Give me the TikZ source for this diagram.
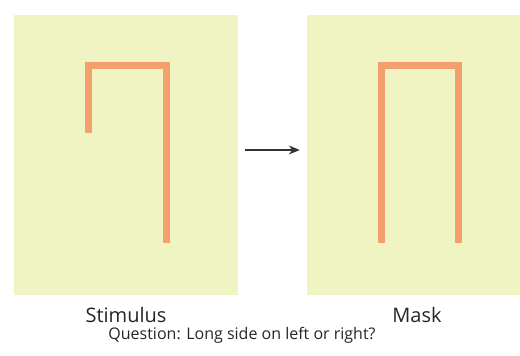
\documentclass[tikz,border=0pt]{standalone}
\usepackage{fontspec}
\setmainfont{Open Sans}
\usetikzlibrary{arrows.meta}
\definecolor{panelfill}{HTML}{EFF4C2}
\definecolor{barorange}{HTML}{F3A06E}
\definecolor{arrowgray}{HTML}{333333}
\begin{document}
\begin{tikzpicture}[x=1pt,y=-1pt,
        panel/.style={fill=panelfill, draw=none, inner sep=0pt, minimum height=280pt},
        bar/.style={barorange, line width=7pt},
        caption/.style={font=\fontsize{20}{24}\selectfont, text=black!85, inner sep=0pt, anchor=base}]
    \useasboundingbox[fill=white] (0,0) rectangle (520,356);
    % the two panels
    \node[panel, minimum width=224pt] (stim) at (126,154.5) {};
    \node[panel, minimum width=213pt] (mask) at (413.5,154.5) {};
    % stimulus: short side left
    \draw[bar] (88.5,133) -- (88.5,65.5) -- (166.5,65.5) -- (166.5,243);
    % mask: both sides long
    \draw[bar] (381,243) -- (381,65) -- (458,65) -- (458,243);
    \draw[-{Stealth[length=11pt,width=9pt]}, arrowgray, line width=1.5pt,
        shorten <=7pt, shorten >=7pt]
        ([yshift=4.5pt]stim.east) -- ([yshift=4.5pt]mask.west);
    \node[caption] (stimlabel) at (126,322) {Stimulus};
    \node[caption] (masklabel) at (417,322) {Mask};
    \node[caption, font=\fontsize{16}{19}\selectfont] (question) at (242,339)
        {Question: Long side on left or right?};
\end{tikzpicture}
\end{document}
